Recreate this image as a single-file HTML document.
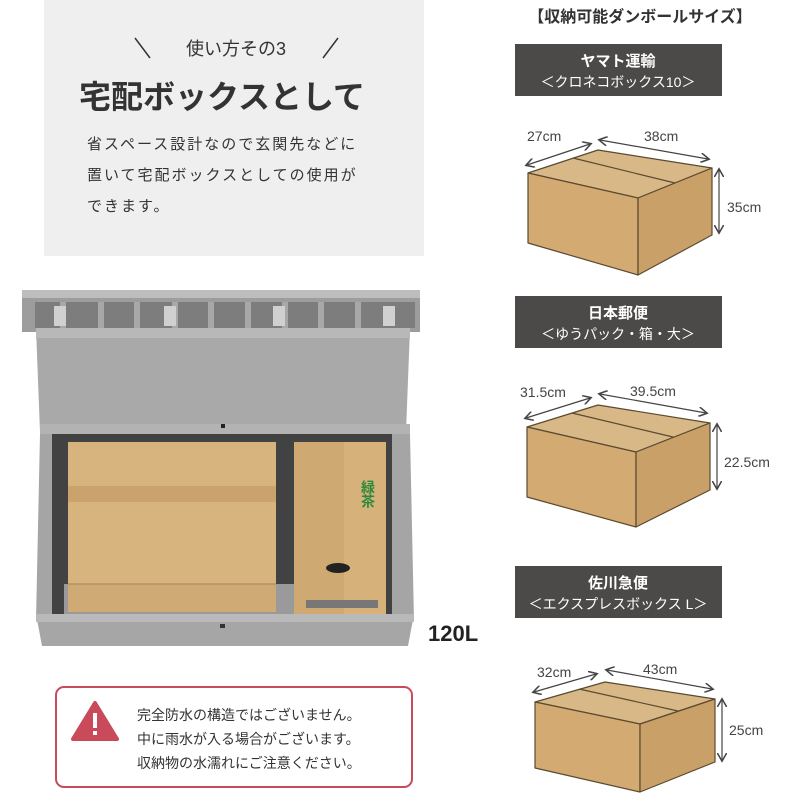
<!DOCTYPE html>
<html><head><meta charset="utf-8"><style>
body{margin:0;width:800px;height:800px;background:#fff;overflow:hidden;font-family:"Liberation Sans","Noto Sans CJK JP",sans-serif}
svg text{font-family:"Liberation Sans","Noto Sans CJK JP",sans-serif}
</style></head><body>
<svg width="800" height="800" viewBox="0 0 800 800" xmlns="http://www.w3.org/2000/svg">
<!-- top-left panel -->
<rect x="44" y="0" width="380" height="256" fill="#efefef"/>
<line x1="135" y1="38" x2="150" y2="58" stroke="#333" stroke-width="1.5"/>
<line x1="338" y1="38" x2="323" y2="58" stroke="#333" stroke-width="1.5"/>
<text x="236" y="55" font-size="18" text-anchor="middle" fill="#333">使い方その3</text>
<text x="222" y="108" font-size="32" font-weight="bold" text-anchor="middle" fill="#333">宅配ボックスとして</text>
<text x="87" y="149" font-size="15" fill="#333" letter-spacing="2">省スペース設計なので玄関先などに</text>
<text x="87" y="180" font-size="15" fill="#333" letter-spacing="2">置いて宅配ボックスとしての使用が</text>
<text x="87" y="211" font-size="15" fill="#333" letter-spacing="2">できます。</text>
<!-- storage box photo -->
<rect x="22" y="292" width="398" height="40" fill="#9d9d9d"/>
<rect x="22" y="290" width="398" height="8" fill="#bdbdbd"/>
<g fill="#7d7d7d"><rect x="35" y="302" width="380" height="26"/></g>
<g fill="#a8a8a8"><rect x="60" y="302" width="6" height="26"/><rect x="98" y="302" width="6" height="26"/><rect x="134" y="302" width="6" height="26"/><rect x="172" y="302" width="6" height="26"/><rect x="208" y="302" width="6" height="26"/><rect x="245" y="302" width="6" height="26"/><rect x="282" y="302" width="6" height="26"/><rect x="318" y="302" width="6" height="26"/><rect x="355" y="302" width="6" height="26"/></g>
<g fill="#d0d0d0"><rect x="54" y="306" width="12" height="20"/><rect x="164" y="306" width="12" height="20"/><rect x="273" y="306" width="12" height="20"/><rect x="383" y="306" width="12" height="20"/></g>
<polygon points="36,328 410,328 406,432 40,432" fill="#a9a9a9"/>
<rect x="36" y="328" width="374" height="10" fill="#b8b8b8"/>
<rect x="40" y="424" width="370" height="10" fill="#b3b3b3"/>
<rect x="221" y="424" width="4" height="4" fill="#222"/>
<polygon points="40,434 410,434 414,620 36,620" fill="#a5a5a5"/>
<rect x="52" y="434" width="340" height="180" fill="#3a3a3a"/>
<rect x="52" y="434" width="340" height="180" fill="#4a4a4a" opacity=".5"/>
<rect x="64" y="584" width="320" height="30" fill="#9a9a9a"/>
<!-- big box -->
<rect x="68" y="442" width="208" height="170" fill="#d7b37e"/>
<rect x="68" y="486" width="208" height="16" fill="#c9a26c"/>
<rect x="68" y="584" width="208" height="28" fill="#cfaa74"/>
<line x1="68" y1="584" x2="276" y2="584" stroke="#a58456"/>
<!-- tea box -->
<rect x="294" y="442" width="92" height="172" fill="#d6b27a"/>
<rect x="294" y="442" width="50" height="172" fill="#ceaa72"/>
<text x="368" y="480" font-size="14" fill="#2a8a3a" writing-mode="tb" font-weight="bold">緑茶</text>
<ellipse cx="338" cy="568" rx="12" ry="5" fill="#222"/>
<rect x="306" y="600" width="72" height="8" fill="#777"/>
<!-- front bottom lip -->
<polygon points="36,614 414,614 408,646 42,646" fill="#a6a6a6"/>
<rect x="36" y="614" width="378" height="8" fill="#b9b9b9"/>
<rect x="220" y="624" width="5" height="4" fill="#333"/>
<text x="428" y="641" font-size="22" font-weight="bold" fill="#222">120L</text>
<!-- warning -->
<rect x="56" y="687" width="356" height="100" rx="8" fill="#fff" stroke="#c94a5a" stroke-width="2"/>
<polygon points="95,703 117,739 73,739" fill="#c94a5a" stroke="#c94a5a" stroke-width="4" stroke-linejoin="round"/>
<rect x="93" y="713" width="4" height="15" fill="#fff"/><rect x="93" y="731" width="4" height="4" fill="#fff"/>
<text x="137" y="720" font-size="14" fill="#333">完全防水の構造ではございません。</text>
<text x="137" y="744" font-size="14" fill="#333">中に雨水が入る場合がございます。</text>
<text x="137" y="768" font-size="14" fill="#333">収納物の水濡れにご注意ください。</text>
<!-- right column -->
<text x="640" y="22" font-size="16" font-weight="bold" text-anchor="middle" fill="#333">【収納可能ダンボールサイズ】</text>
<rect x="515" y="44" width="207" height="52" fill="#4c4a48"/>
<text x="618" y="66" font-size="15" font-weight="bold" fill="#fff" text-anchor="middle">ヤマト運輸</text>
<text x="618" y="87" font-size="14" fill="#fff" text-anchor="middle">＜クロネコボックス10＞</text>
<rect x="515" y="296" width="207" height="52" fill="#4c4a48"/>
<text x="618" y="318" font-size="15" font-weight="bold" fill="#fff" text-anchor="middle">日本郵便</text>
<text x="618" y="339" font-size="14" fill="#fff" text-anchor="middle">＜ゆうパック・箱・大＞</text>
<rect x="515" y="566" width="207" height="52" fill="#4c4a48"/>
<text x="618" y="588" font-size="15" font-weight="bold" fill="#fff" text-anchor="middle">佐川急便</text>
<text x="618" y="609" font-size="14" fill="#fff" text-anchor="middle">＜エクスプレスボックス L＞</text>
<defs><marker id="a" markerWidth="8" markerHeight="8" refX="6" refY="4" orient="auto-start-reverse"><path d="M0,0 L7,4 L0,8" fill="none" stroke="#444" stroke-width="1.3"/></marker></defs>
<g stroke="#5a4a30" stroke-width="1.2" stroke-linejoin="round">
<!-- box1 -->
<polygon points="528,173 598,150 712,168 638,198" fill="#d9b887"/>
<polygon points="528,173 638,198 638,275 528,243" fill="#d2aa72"/>
<polygon points="638,198 712,168 712,235 638,275" fill="#c9a068"/>
<line x1="573" y1="158" x2="675" y2="183"/>
<!-- box2 -->
<polygon points="527,427 598,405 710,423 636,452" fill="#d9b887"/>
<polygon points="527,427 636,452 636,527 527,497" fill="#d2aa72"/>
<polygon points="636,452 710,423 710,490 636,527" fill="#c9a068"/>
<line x1="572" y1="413" x2="673" y2="437"/>
<!-- box3 -->
<polygon points="535,702 605,682 715,699 640,724" fill="#d9b887"/>
<polygon points="535,702 640,724 640,792 535,768" fill="#d2aa72"/>
<polygon points="640,724 715,699 715,762 640,792" fill="#c9a068"/>
<line x1="579" y1="689" x2="678" y2="711"/>
</g>
<g stroke="#444" stroke-width="1.2" marker-start="url(#a)" marker-end="url(#a)">
<line x1="527" y1="165" x2="590" y2="144"/><line x1="600" y1="140" x2="708" y2="159"/><line x1="719" y1="170" x2="719" y2="232"/>
<line x1="526" y1="418" x2="590" y2="398"/><line x1="600" y1="394" x2="706" y2="413"/><line x1="717" y1="425" x2="717" y2="488"/>
<line x1="534" y1="692" x2="596" y2="674"/><line x1="607" y1="670" x2="712" y2="689"/><line x1="722" y1="700" x2="722" y2="760"/>
</g>
<g font-size="14" fill="#444">
<text x="527" y="141">27cm</text><text x="644" y="141">38cm</text><text x="727" y="212">35cm</text>
<text x="520" y="397">31.5cm</text><text x="630" y="396">39.5cm</text><text x="724" y="467">22.5cm</text>
<text x="537" y="677">32cm</text><text x="643" y="674">43cm</text><text x="729" y="735">25cm</text>
</g>
</svg>
</body></html>
